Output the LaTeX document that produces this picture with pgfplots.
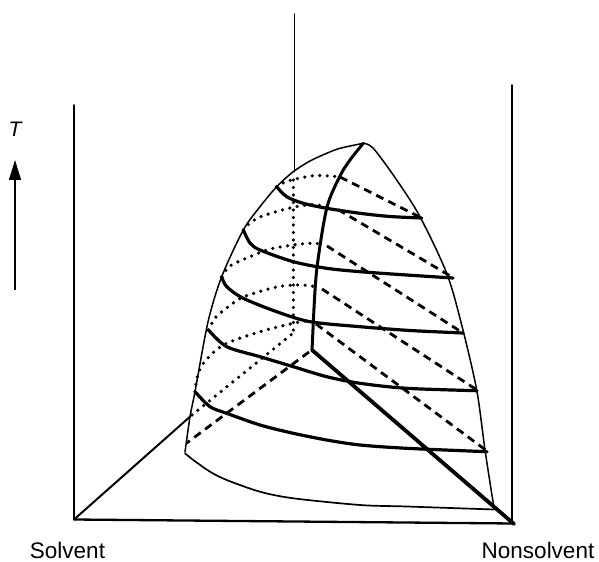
\documentclass[border=0pt]{standalone}
\usepackage{pgfplots}
\pgfplotsset{compat=1.18}
\usepackage{fontspec}
\setmainfont{Liberation Sans}
\usetikzlibrary{arrows.meta}
\tikzset{
  thinl/.style={black, line width=1.5pt, line cap=round, line join=round},
  thickl/.style={black, line width=3.2pt, line cap=round, line join=round},
  dotl/.style={black, line width=3.6pt, line cap=round, dash pattern=on 0pt off 7.5pt},
  dashl/.style={black, line width=2.8pt, dash pattern=on 8pt off 5.5pt},
}
\begin{document}
\begin{tikzpicture}
\begin{axis}[
  x=1pt, y=1pt, xmin=0, xmax=599, ymin=0, ymax=560, y dir=reverse,
  hide axis, clip=false,
]
\path (rel axis cs:0,0) rectangle (rel axis cs:1,1);
% frame verticals
\addplot[thinl] coordinates {(74,105) (74,519.5)};
\addplot[thinl] coordinates {(294.3,14) (294.3,171.7)};
\addplot[thinl] coordinates {(512,85) (512,523)};
% base edges
\addplot[black, line width=2.3pt, line cap=round] coordinates {(74,519.5) (514,523.5)};
\addplot[black, line width=2pt, line cap=round] coordinates {(74,519.5) (190,416.7)};
\addplot[black, line width=3.8pt, line cap=round] coordinates {(312,350) (514,524)};
% meridian
\addplot[black, line width=3pt, line cap=round, smooth] coordinates {(363.3,143.3) (350,160) (340,176) (326.7,208.3) (316.7,270) (313.3,323)};
\addplot[black, line width=3pt, line cap=round] coordinates {(313.3,323) (312,350)};
% dome edges
\addplot[thinl, smooth] coordinates {(363.3,143.3) (340,148.3) (326.7,153.3) (310,161) (293.3,171.7) (276.7,186.7) (260,206.7) (243.3,230) (221.7,276.7) (208,322) (195,391.7) (190,416.7) (185,452)};
\addplot[thinl, smooth] coordinates {(363.3,143.3) (373.3,148.3) (396.7,180) (420,216.7) (446.7,273.3) (461.7,325) (476.7,390) (485,450) (494,508)};
% isotherms (front, solid)
\addplot[thickl, smooth] coordinates {(276.7,186.7) (286.7,196.7) (303.3,203.3) (326.7,208.3) (360,213.3) (390,216.5) (421.7,218)};
\addplot[thickl, smooth] coordinates {(243.3,230) (250,243) (260,250) (293.3,261.7) (326.7,268.3) (360,271.7) (406.7,275) (453,278)};
\addplot[thickl, smooth] coordinates {(221.7,276.7) (226.7,286.7) (243.3,298.3) (276.7,311.7) (310,321.7) (360,326.7) (410,330.5) (463,333)};
\addplot[thickl, smooth] coordinates {(208.5,330) (226.7,346.7) (260,356.7) (293.3,366.7) (326.7,376.7) (360,383.3) (406.7,388.3) (477,390.7)};
\addplot[thickl, smooth] coordinates {(195,391.7) (210,406.7) (226.7,413.3) (260,425) (293.3,433.3) (326.7,440) (360,445) (406.7,448.3) (487,451.7)};
\addplot[black, line width=1.7pt, line cap=round, smooth] coordinates {(185,453.3) (193.3,460) (210,471.7) (226.7,480) (260,491.7) (293.3,498.3) (360,505) (406.7,506.5) (494,509.5)};
% isotherms (back, dotted)
\addplot[dotl, smooth] coordinates {(276.7,186.7) (285,182) (300,178) (316.7,175.5) (336,176.5)};
\addplot[dotl, smooth] coordinates {(243.3,230) (250,223) (260,217) (275,212) (293.3,207.3) (313,204.5) (333,208)};
\addplot[dotl, smooth] coordinates {(221.7,276.7) (230,266) (250,256.7) (270,249) (293.3,245) (310,243.3) (324,244)};
\addplot[dotl, smooth] coordinates {(208.5,330) (215,318) (226.7,308) (243.3,297) (276.7,287) (300,285) (318,287)};
\addplot[dotl, smooth] coordinates {(195,391.7) (197,378) (203.3,363.3) (223.3,345) (260,331.7) (293.3,323.3) (308,320.5)};
% hidden straight dotted lines
\addplot[dotl] coordinates {(293.3,180) (293.3,333)};
\addplot[dotl] coordinates {(192,415) (293.3,333)};
% dashed lines
\addplot[dashl] coordinates {(340,177) (421.7,218)};
\addplot[dashl] coordinates {(338,209.5) (452,277)};
\addplot[dashl] coordinates {(327,246) (463,333)};
\addplot[dashl] coordinates {(322,289) (477,390)};
\addplot[dashl] coordinates {(316,324) (487,451)};
\addplot[dashl] coordinates {(309,352) (186.7,443)};
% T arrow
\addplot[black, line width=1.5pt, -{Triangle[length=20pt,width=12pt]}] coordinates {(15,290) (15,160)};
\node[anchor=base, font=\fontsize{21}{24}\selectfont\itshape] at (axis cs:15,136.7) {T};
\node[anchor=base, font=\fontsize{22.5}{26}\selectfont] at (axis cs:67.5,558.3) {Solvent};
\node[anchor=base, font=\fontsize{22.5}{26}\selectfont] at (axis cs:538,558.3) {Nonsolvent};
\end{axis}
\end{tikzpicture}
\end{document}
